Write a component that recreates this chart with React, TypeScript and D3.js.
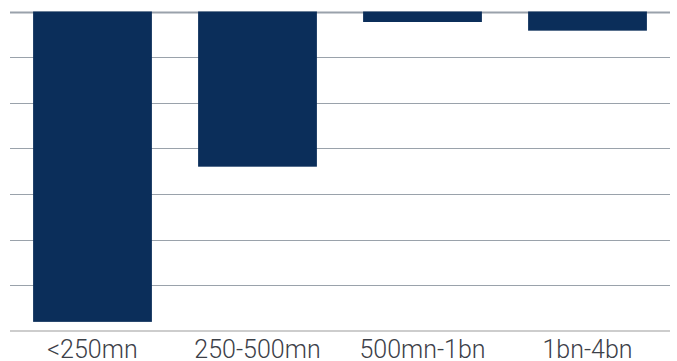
import React from "react";
import * as d3 from "d3";

const categories = ["<250mn", "250-500mn", "500mn-1bn", "1bn-4bn"];
const values = [-34.0, -17.0, -1.15, -2.1];
const yTicks = [0, -5, -10, -15, -20, -25, -30];

const W = 677;
const H = 361;

export default function App() {
  const x = d3
    .scaleBand<string>()
    .domain(categories)
    .range([10, 670])
    .paddingInner(0.28)
    .paddingOuter(0.14);
  const y = d3.scaleLinear().domain([0, -35]).range([11.5, 331]);

  return (
    <svg
      width={W}
      height={H}
      style={{ position: "absolute", left: 0, top: 0, background: "#fff" }}
    >
      {yTicks.map((t) => (
        <line
          key={t}
          x1={10}
          x2={670}
          y1={Math.round(y(t)) + 0.5}
          y2={Math.round(y(t)) + 0.5}
          stroke="#9aa2ab"
          strokeWidth={t === 0 ? 2 : 1}
        />
      ))}
      <line x1={10} x2={670} y1={331} y2={331} stroke="#cdcdcd" strokeWidth={2} />
      {categories.map((c, i) => (
        <rect
          key={c}
          x={x(c)}
          y={y(0)}
          width={x.bandwidth()}
          height={y(values[i]) - y(0)}
          fill="#0b2e5a"
        />
      ))}
      {categories.map((c) => (
        <text
          key={c}
          x={(x(c) as number) + x.bandwidth() / 2}
          y={357.5}
          textAnchor="middle"
          fontFamily="Roboto, sans-serif"
          fontWeight={300}
          fontSize={25}
          fill="#3c4048"
        >
          {c}
        </text>
      ))}
    </svg>
  );
}
